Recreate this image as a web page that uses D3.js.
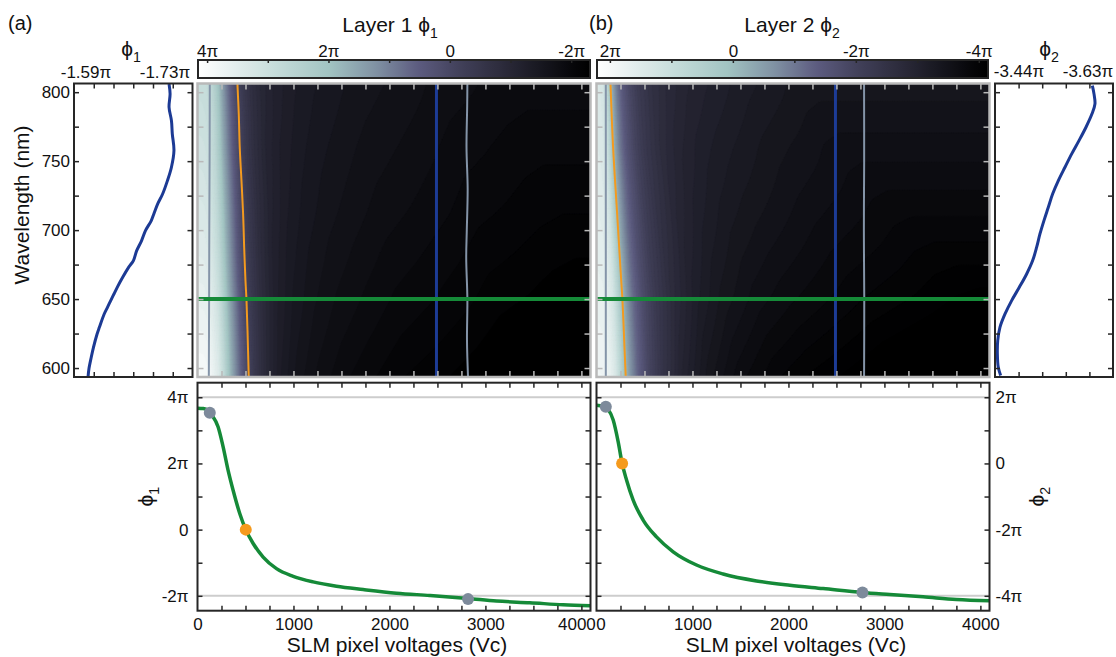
<!DOCTYPE html>
<html><head><meta charset="utf-8">
<script src="https://cdn.jsdelivr.net/npm/d3@7"></script>
<style>
body{margin:0;background:#fff}
svg{font-family:"Liberation Sans",Arial,Helvetica,sans-serif}
</style>
</head><body>
<svg id="c" width="1116" height="657"></svg>
<script>
// ---------------- DATA ----------------
const voltageMax = 4095;
const voltageLabels = [0, 1000, 2000, 3000, 4000];
const voltageMinorStep = 250;
const wavelengthLabels = [600, 650, 700, 750, 800];
const wavelengthMinorStep = 25;
const wavelengthRange = [593.5, 806.3];
const sliceWavelength = 650;
const sliceVoltage = 2490;

// Layer 1 : phase (units of π) vs SLM voltage at 650 nm
const layer1V   = [0, 60, 110, 150, 215, 267, 319, 371, 441, 503, 580, 684, 823, 997, 1205, 1448, 1726, 2073, 2420, 2819, 3115, 3462, 3809, 4095];
const layer1Phi = [3.67, 3.66, 3.60, 3.46, 3.10, 2.50, 1.79, 1.19, 0.48, 0.00, -0.42, -0.83, -1.18, -1.41, -1.58, -1.71, -1.81, -1.92, -1.99, -2.08, -2.16, -2.21, -2.27, -2.30];
const layer1DotV   = [128, 503, 2819];
const layer1DotPhi = [3.53, 0.00, -2.10];
const layer1TickPhi = [4, 2, 0, -2];
const layer1ColorbarLabels = [4, 2, 0, -2];
const layer1GuidePhi = [4, -2];

// Layer 2
const layer2V   = [0, 69, 122, 174, 226, 267, 313, 382, 486, 625, 799, 1042, 1319, 1667, 2014, 2361, 2771, 3056, 3403, 3750, 4095];
const layer2Phi = [1.76, 1.73, 1.63, 1.31, 0.65, 0.00, -0.50, -1.11, -1.71, -2.22, -2.67, -3.07, -3.34, -3.55, -3.68, -3.78, -3.90, -3.96, -4.03, -4.11, -4.15];
const layer2DotV   = [97, 267, 2771];
const layer2DotPhi = [1.71, 0.00, -3.90];
const layer2TickPhi = [2, 0, -2, -4];
const layer2ColorbarLabels = [2, 0, -2, -4];
const layer2GuidePhi = [2, -4];

const dotColors = ["#7d8a9b", "#f59a1c", "#7d8a9b"];

// Contour guide lines on the maps (voltage vs wavelength)
const layer1OrangeWl = [593, 627, 650, 663, 688, 712, 736, 760, 784, 806];
const layer1OrangeV  = [534, 521, 510, 500, 486, 475, 458, 440, 430, 416];
const layer1GrayAWl = [593, 650, 700, 750, 806];
const layer1GrayAV  = [118, 121, 123, 126, 128];
const layer1GrayBWl = [593, 620, 650, 680, 700, 730, 760, 790, 806];
const layer1GrayBV  = [2819, 2808, 2812, 2800, 2806, 2815, 2803, 2810, 2812];

const layer2OrangeWl = [593, 616, 650, 664, 712, 760, 806];
const layer2OrangeV  = [305, 291, 270, 257, 215, 173, 146];
const layer2GrayAWl = [593, 700, 806];
const layer2GrayAV  = [97, 97, 97];
const layer2GrayBWl = [593, 650, 700, 750, 806];
const layer2GrayBV  = [2788, 2790, 2786, 2789, 2788];

// Side panels: phase (π) at the sliced voltage vs wavelength
const side1Wl  = [593.3, 599.6, 607.8, 615.0, 624.7, 629.5, 639.2, 644.0, 648.9, 653.7, 658.5, 665.8, 673.0, 677.9, 685.1, 692.4, 699.6, 706.9, 711.7, 719.0, 726.2, 735.9, 745.6, 757.7, 769.8, 779.4, 789.1, 798.8, 806.0];
const side1Phi = [-1.5898, -1.5914, -1.5951, -1.5987, -1.6046, -1.6083, -1.6162, -1.6215, -1.6268, -1.6321, -1.6374, -1.6463, -1.6559, -1.6638, -1.6691, -1.6771, -1.6834, -1.6929, -1.6970, -1.7033, -1.7113, -1.7192, -1.7257, -1.7298, -1.7271, -1.7257, -1.7218, -1.7235, -1.7218];
const side2Wl  = [594.5, 600.5, 610.2, 619.9, 629.5, 639.2, 648.9, 658.5, 668.2, 677.9, 687.6, 697.2, 706.9, 716.6, 726.3, 735.9, 745.6, 755.3, 764.9, 774.6, 784.3, 791.5, 798.8, 804.8];
const side2Phi = [-3.4464, -3.4418, -3.4400, -3.4407, -3.4450, -3.4549, -3.4678, -3.4827, -3.4970, -3.5087, -3.5165, -3.5229, -3.5307, -3.5392, -3.5477, -3.5587, -3.5716, -3.5847, -3.5989, -3.6125, -3.6242, -3.6300, -3.6281, -3.6249];

// colormap
const cmapPos = [0, 0.06, 0.2, 0.33, 0.45, 0.56, 0.67, 0.78, 0.88, 0.95, 1];
const cmapCol = ["#ffffff", "#eef4f4", "#c5dcda", "#a3c5c3", "#8193a4", "#5d5c80", "#414059", "#2b2a3a", "#16161e", "#08080b", "#000000"];

// ---------------- DRAW ----------------
const svg = d3.select("#c");
const dark = "#262626";
const frameGray = "#b9b9b9";
const TICKFONT = 17;

function piLabel(v){ if (v === 0) return "0"; const a = Math.abs(v); return (v < 0 ? "-" : "") + (a === 1 ? "" : a) + "π"; }
function hyphen(s){ return s.replace(/\u2212/g, "-"); }

function makeColor(domain){
  const t = d3.scaleLinear().domain(domain).range([0, 1]).clamp(true);
  const c = d3.scaleLinear().domain(cmapPos).range(cmapCol).interpolate(d3.interpolateRgb);
  return v => c(t(v));
}

function phiText(g, x, y, idx, size, anchor, rotate){
  const t = g.append("text").attr("font-size", size).attr("text-anchor", anchor || "middle").attr("fill", "#111")
    .attr("transform", `translate(${x},${y})` + (rotate ? ` rotate(${rotate})` : ""));
  t.append("tspan").text("ϕ");
  t.append("tspan").attr("font-size", size * 0.68).attr("dy", size * 0.3).text(idx);
  return t;
}

function styleAxis(g, color){
  g.select(".domain").remove();
  g.selectAll("line").attr("stroke", color).attr("stroke-width", 1.5);
  g.selectAll("text").attr("font-size", TICKFONT).attr("fill", "#111").attr("font-family", '"Liberation Sans",Arial,sans-serif');
}

function drawLayer(cfg){
  const g = svg.append("g");
  const {hx0, hx1, top, bot, btop, bbot} = cfg;
  const xV = d3.scaleLinear().domain([0, voltageMax]).range([hx0, hx1]);
  const yW = d3.scaleLinear().domain(wavelengthRange).range([bot, top]);
  const color = makeColor(cfg.cbDomain);

  // ---------- colorbar ----------
  const cb = cfg.cb;
  const xC = d3.scaleLinear().domain(cfg.cbDomain).range([cb.x0, cb.x1]);
  const gradId = "grad" + cfg.id;
  const grad = svg.append("defs").append("linearGradient").attr("id", gradId);
  d3.range(0, 61).forEach(k => {
    const v = cfg.cbDomain[0] + k / 60 * (cfg.cbDomain[1] - cfg.cbDomain[0]);
    grad.append("stop").attr("offset", (k / 60 * 100) + "%").attr("stop-color", color(v));
  });
  g.append("rect").attr("x", cb.x0).attr("y", cb.y0).attr("width", cb.x1 - cb.x0).attr("height", cb.y1 - cb.y0)
    .attr("fill", `url(#${gradId})`).attr("stroke", dark).attr("stroke-width", 2);
  const cbMinor = d3.range(Math.ceil(cfg.cbDomain[1]), Math.floor(cfg.cbDomain[0]) + 1);
  const aCbT = g.append("g").attr("transform", `translate(0,${cb.y0})`)
    .call(d3.axisTop(xC).tickValues(cbMinor).tickSize(-3).tickFormat(""));
  styleAxis(aCbT, dark);
  const aCbL = g.append("g").attr("transform", `translate(0,${cb.y0})`)
    .call(d3.axisTop(xC).tickValues(cfg.cbLabels).tickSize(0).tickPadding(3).tickFormat(piLabel));
  styleAxis(aCbL, dark);

  // title
  const tt = g.append("text").attr("x", cfg.titleX).attr("y", 32).attr("text-anchor", "middle").attr("font-size", 21).attr("fill", "#111");
  tt.append("tspan").text(cfg.title + " ϕ");
  tt.append("tspan").attr("font-size", 14).attr("dy", 6).text(cfg.id);
  g.append("text").attr("x", cfg.letterX).attr("y", 30).attr("font-size", 20).attr("fill", "#111").text(cfg.letter);

  // ---------- heatmap ----------
  const nx = 160, ny = 60;
  const phiOfV = d3.scaleLinear().domain(cfg.curveV).range(cfg.curvePhi).clamp(true);
  const orangeAt = d3.scaleLinear().domain(cfg.orangeWl).range(cfg.orangeV);
  const refV = orangeAt(sliceWavelength);
  const vals = new Array(nx * ny);
  for (let j = 0; j < ny; j++){
    const wl = wavelengthRange[1] - (j + 0.5) / ny * (wavelengthRange[1] - wavelengthRange[0]);
    const s = refV / orangeAt(wl);
    for (let i = 0; i < nx; i++){
      const V = (i + 0.5) / nx * voltageMax;
      vals[i + j * nx] = phiOfV(V * s) * (sliceWavelength / wl);
    }
  }
  const lo = d3.min(vals), hi = d3.max(vals);
  const thresholds = d3.range(Math.floor(lo * 10) / 10, hi, 0.1);
  const contours = d3.contours().size([nx, ny]).thresholds(thresholds)(vals);
  const proj = d3.geoTransform({point: function(x, y){ this.stream.point(hx0 + x * (hx1 - hx0) / nx, top + y * (bot - top) / ny); }});
  const path = d3.geoPath(proj);
  const clipId = "clip" + cfg.id;
  svg.append("defs").append("clipPath").attr("id", clipId).append("rect")
    .attr("x", hx0).attr("y", top).attr("width", hx1 - hx0).attr("height", bot - top);
  const hm = g.append("g").attr("clip-path", `url(#${clipId})`);
  hm.append("rect").attr("x", hx0).attr("y", top).attr("width", hx1 - hx0).attr("height", bot - top).attr("fill", color(lo));
  hm.selectAll("path.c").data(contours).join("path").attr("class", "c").attr("d", path)
    .attr("fill", d => color(d.value)).attr("stroke", d => color(d.value)).attr("stroke-width", 0.4);

  const lineVW = d3.line().x(d => xV(d[0])).y(d => yW(d[1])).curve(d3.curveCatmullRom);
  const zipVW = (vs, ws) => vs.map((v, i) => [v, ws[i]]);
  hm.append("path").attr("d", lineVW(zipVW(cfg.grayAV, cfg.grayAWl))).attr("fill", "none").attr("stroke", "#8494a8").attr("stroke-width", 2);
  hm.append("path").attr("d", lineVW(zipVW(cfg.grayBV, cfg.grayBWl))).attr("fill", "none").attr("stroke", "#8494a8").attr("stroke-width", 2);
  hm.append("path").attr("d", lineVW(zipVW(cfg.orangeV, cfg.orangeWl))).attr("fill", "none").attr("stroke", "#f39a1f").attr("stroke-width", 2);
  hm.append("line").attr("x1", xV(sliceVoltage)).attr("x2", xV(sliceVoltage)).attr("y1", top).attr("y2", bot)
    .attr("stroke", "#1d3c96").attr("stroke-width", 3);
  hm.append("line").attr("x1", hx0).attr("x2", hx1).attr("y1", yW(sliceWavelength)).attr("y2", yW(sliceWavelength))
    .attr("stroke", "#158a38").attr("stroke-width", 4);

  g.append("rect").attr("x", hx0).attr("y", top).attr("width", hx1 - hx0).attr("height", bot - top)
    .attr("fill", "none").attr("stroke", frameGray).attr("stroke-width", 2.5);
  const vMinor = d3.range(0, voltageMax, voltageMinorStep);
  const wMinor = d3.range(600, 801, wavelengthMinorStep);
  [[d3.axisTop, top, -6], [d3.axisBottom, bot, -6]].forEach(([ax, y, s]) => {
    const a = g.append("g").attr("transform", `translate(0,${y})`).call(ax(xV).tickValues(vMinor.slice(1)).tickSize(s).tickFormat(""));
    styleAxis(a, frameGray);
  });
  [[d3.axisLeft, hx0], [d3.axisRight, hx1]].forEach(([ax, x]) => {
    const a = g.append("g").attr("transform", `translate(${x},0)`).call(ax(yW).tickValues(wMinor).tickSize(-6).tickFormat(""));
    styleAxis(a, frameGray);
  });

  // ---------- side panel ----------
  const sp = cfg.side;
  const xS = d3.scaleLinear().domain(sp.domain).range([sp.x0, sp.x1]);
  g.append("path").attr("d", d3.line().x(d => xS(d[0])).y(d => yW(d[1])).curve(d3.curveCatmullRom)(sp.phi.map((p, i) => [p, sp.wl[i]])))
    .attr("fill", "none").attr("stroke", "#1c3a94").attr("stroke-width", 3);
  g.append("rect").attr("x", sp.x0).attr("y", top).attr("width", sp.x1 - sp.x0).attr("height", bot - top)
    .attr("fill", "none").attr("stroke", dark).attr("stroke-width", 2);
  const sTicks = d3.range(1, sp.nDiv).map(k => sp.domain[0] + k / sp.nDiv * (sp.domain[1] - sp.domain[0]));
  [[d3.axisTop, top], [d3.axisBottom, bot]].forEach(([ax, y]) => {
    const a = g.append("g").attr("transform", `translate(0,${y})`).call(ax(xS).tickValues(sTicks).tickSize(-5).tickFormat(""));
    styleAxis(a, dark);
  });
  [[d3.axisLeft, sp.x0], [d3.axisRight, sp.x1]].forEach(([ax, x]) => {
    const a = g.append("g").attr("transform", `translate(${x},0)`).call(ax(yW).tickValues(wMinor).tickSize(-5).tickFormat(""));
    styleAxis(a, dark);
  });
  if (sp.showWl){
    const a = g.append("g").attr("transform", `translate(${sp.x0},0)`).call(d3.axisLeft(yW).tickValues(wavelengthLabels).tickSize(0).tickPadding(4).tickFormat(d3.format("d")));
    styleAxis(a, dark);
    g.append("text").attr("transform", "translate(29,205) rotate(-90)").attr("text-anchor", "middle").attr("font-size", 21).attr("fill", "#111").text("Wavelength (nm)");
  }
  const fmt = v => hyphen(d3.format(".2f")(v));
  g.append("text").attr("x", sp.lblMaxX).attr("y", sp.lblY).attr("text-anchor", "middle").attr("font-size", 17).attr("fill", "#111").text(fmt(d3.max(sp.phi)) + "π");
  g.append("text").attr("x", sp.lblMinX).attr("y", sp.lblY).attr("text-anchor", "middle").attr("font-size", 17).attr("fill", "#111").text(fmt(d3.min(sp.phi)) + "π");
  phiText(g, sp.titleX, 56, cfg.id, 21, "middle");

  // ---------- bottom plot ----------
  const yP = d3.scaleLinear().domain(cfg.bDomain).range([bbot, btop]);
  cfg.guidePhi.forEach(p => {
    g.append("line").attr("x1", hx0).attr("x2", hx1).attr("y1", yP(p)).attr("y2", yP(p)).attr("stroke", "#cdcdcd").attr("stroke-width", 2);
  });
  g.append("path").attr("d", d3.line().x(d => xV(d[0])).y(d => yP(d[1])).curve(d3.curveMonotoneX)(cfg.curveV.map((v, i) => [v, cfg.curvePhi[i]])))
    .attr("fill", "none").attr("stroke", "#158a38").attr("stroke-width", 3.5);
  g.selectAll("circle.d" + cfg.id).data(cfg.dotV).join("circle").attr("class", "d" + cfg.id)
    .attr("cx", d => xV(d)).attr("cy", (d, i) => yP(cfg.dotPhi[i])).attr("r", 6).attr("fill", (d, i) => dotColors[i]);
  g.append("rect").attr("x", hx0).attr("y", btop).attr("width", hx1 - hx0).attr("height", bbot - btop)
    .attr("fill", "none").attr("stroke", dark).attr("stroke-width", 2);
  [[d3.axisTop, btop], [d3.axisBottom, bbot]].forEach(([ax, y]) => {
    const a = g.append("g").attr("transform", `translate(0,${y})`).call(ax(xV).tickValues(vMinor.slice(1)).tickSize(-5).tickFormat(""));
    styleAxis(a, dark);
  });
  const pMinor = d3.range(Math.ceil(cfg.bDomain[0]), Math.floor(cfg.bDomain[1]) + 1);
  [[d3.axisLeft, hx0], [d3.axisRight, hx1]].forEach(([ax, x]) => {
    const a = g.append("g").attr("transform", `translate(${x},0)`).call(ax(yP).tickValues(pMinor).tickSize(-5).tickFormat(""));
    styleAxis(a, dark);
  });
  const ax = g.append("g").attr("transform", `translate(0,${bbot})`).call(d3.axisBottom(xV).tickValues(voltageLabels).tickSize(0).tickPadding(7).tickFormat(d3.format("d")));
  styleAxis(ax, dark);
  if (cfg.id === "1") ax.selectAll("text").attr("dx", (d) => d === 4000 ? -5 : 0);
  if (cfg.id === "2") ax.selectAll("text").attr("dx", (d) => d === 0 ? 4 : 0);
  const ay = g.append("g").attr("transform", `translate(${cfg.yAxisRight ? hx1 : hx0},0)`)
    .call((cfg.yAxisRight ? d3.axisRight(yP) : d3.axisLeft(yP)).tickValues(cfg.tickPhi).tickSize(0).tickPadding(cfg.yAxisRight ? 6 : 9).tickFormat(piLabel));
  styleAxis(ay, dark);
  g.append("text").attr("x", (hx0 + hx1) / 2 + 3).attr("y", 652).attr("text-anchor", "middle").attr("font-size", 21).attr("fill", "#111").text("SLM pixel voltages (Vc)");
  phiText(g, cfg.yAxisRight ? 1044 : 153, (btop + bbot) / 2, cfg.id, 21, "middle", -90);
}

drawLayer({
  id: "1", letter: "(a)", letterX: 8, title: "Layer 1", titleX: 390,
  hx0: 197.5, hx1: 590.5, top: 83.5, bot: 377, btop: 382.7, bbot: 610.7,
  cbDomain: [4.15, -2.31], cb: {x0: 198, x1: 590, y0: 60, y1: 78}, cbLabels: layer1ColorbarLabels,
  curveV: layer1V, curvePhi: layer1Phi, dotV: layer1DotV, dotPhi: layer1DotPhi,
  orangeWl: layer1OrangeWl, orangeV: layer1OrangeV,
  grayAWl: layer1GrayAWl, grayAV: layer1GrayAV, grayBWl: layer1GrayBWl, grayBV: layer1GrayBV,
  bDomain: [-2.45, 4.44], tickPhi: layer1TickPhi, guidePhi: layer1GuidePhi, yAxisRight: false,
  side: {x0: 74, x1: 192.5, domain: [-1.567, -1.760], nDiv: 6, wl: side1Wl, phi: side1Phi, showWl: true,
         lblMaxX: 86, lblMinX: 165, lblY: 78, titleX: 131}
});
drawLayer({
  id: "2", letter: "(b)", letterX: 589, title: "Layer 2", titleX: 792,
  hx0: 596.5, hx1: 989.5, top: 83.5, bot: 377, btop: 382.7, bbot: 610.7,
  cbDomain: [2.21, -4.15], cb: {x0: 597, x1: 988, y0: 60, y1: 78}, cbLabels: layer2ColorbarLabels,
  curveV: layer2V, curvePhi: layer2Phi, dotV: layer2DotV, dotPhi: layer2DotPhi,
  orangeWl: layer2OrangeWl, orangeV: layer2OrangeV,
  grayAWl: layer2GrayAWl, grayAV: layer2GrayAV, grayBWl: layer2GrayBWl, grayBV: layer2GrayBV,
  bDomain: [-4.45, 2.44], tickPhi: layer2TickPhi, guidePhi: layer2GuidePhi, yAxisRight: true,
  side: {x0: 995, x1: 1113, domain: [-3.4354, -3.6651], nDiv: 5, wl: side2Wl, phi: side2Phi, showWl: false,
         lblMaxX: 1019, lblMinX: 1088, lblY: 77, titleX: 1049}
});
</script>
</body></html>
